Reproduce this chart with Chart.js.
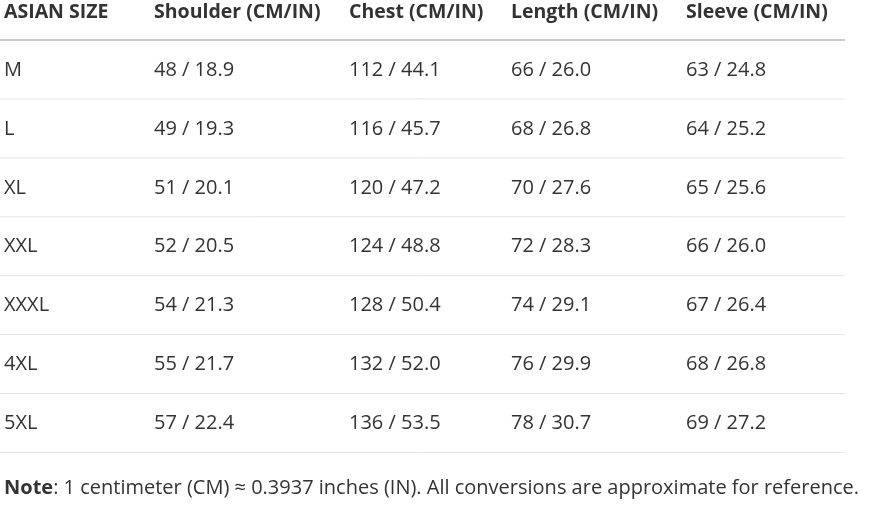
<!DOCTYPE html>
<html>
<head>
<meta charset="utf-8">
<script src="https://cdn.jsdelivr.net/npm/chart.js@4"></script>
<style>
  html, body { margin: 0; padding: 0; background: #fff; }
  #wrap { width: 895px; height: 525px; }
</style>
</head>
<body>
<div id="wrap"><canvas id="tabla"></canvas></div>
<script>
// Datos de la tabla
var headers = ['ASIAN SIZE', 'Shoulder (CM/IN)', 'Chest (CM/IN)', 'Length (CM/IN)', 'Sleeve (CM/IN)'];
var sizes = ['M', 'L', 'XL', 'XXL', 'XXXL', '4XL', '5XL'];
var shoulderCm = [48, 49, 51, 52, 54, 55, 57];
var shoulderIn = [18.9, 19.3, 20.1, 20.5, 21.3, 21.7, 22.4];
var chestCm = [112, 116, 120, 124, 128, 132, 136];
var chestIn = [44.1, 45.7, 47.2, 48.8, 50.4, 52.0, 53.5];
var lengthCm = [66, 68, 70, 72, 74, 76, 78];
var lengthIn = [26.0, 26.8, 27.6, 28.3, 29.1, 29.9, 30.7];
var sleeveCm = [63, 64, 65, 66, 67, 68, 69];
var sleeveIn = [24.8, 25.2, 25.6, 26.0, 26.4, 26.8, 27.2];
var noteText = ': 1 centimeter (CM) \u2248 0.3937 inches (IN). All conversions are approximate for reference.';

// Posicion de cada columna (inicio) y filas
var colStarts = [4, 154, 349, 511, 686];

function pair(a, b, i) { return a[i] + ' / ' + b[i].toFixed(1); }

var tablePlugin = {
  id: 'tablePlugin',
  afterDraw: function (chart) {
    var ctx = chart.ctx;
    var xs = chart.scales.x, ys = chart.scales.y;
    var x0 = xs.getPixelForValue(0), x1 = xs.getPixelForValue(845);
    ctx.save();
    ctx.textBaseline = 'middle';
    ctx.fillStyle = '#333';
    // cabecera
    ctx.font = 'bold 19.5px "Open Sans", "Noto Sans", sans-serif';
    headers.forEach(function (h, c) {
      ctx.fillText(h, xs.getPixelForValue(colStarts[c]), ys.getPixelForValue(12));
    });
    ctx.strokeStyle = '#bbb';
    ctx.lineWidth = 1.5;
    ctx.beginPath();
    ctx.moveTo(x0, ys.getPixelForValue(40)); ctx.lineTo(x1, ys.getPixelForValue(40));
    ctx.stroke();
    // filas
    ctx.font = '20px "Open Sans", "Noto Sans", sans-serif';
    ctx.strokeStyle = '#e4e4e4';
    ctx.lineWidth = 1;
    sizes.forEach(function (s, i) {
      var yc = ys.getPixelForValue(70 + i * 58.9);
      var cells = [s, pair(shoulderCm, shoulderIn, i), pair(chestCm, chestIn, i),
                   pair(lengthCm, lengthIn, i), pair(sleeveCm, sleeveIn, i)];
      cells.forEach(function (t, c) {
        ctx.fillText(t, xs.getPixelForValue(colStarts[c]), yc);
      });
      var yl = ys.getPixelForValue(99 + i * 58.9);
      ctx.beginPath(); ctx.moveTo(x0, yl); ctx.lineTo(x1, yl); ctx.stroke();
    });
    // nota
    var yn = ys.getPixelForValue(488);
    ctx.font = 'bold 20px "Open Sans", "Noto Sans", sans-serif';
    ctx.fillText('Note', xs.getPixelForValue(4), yn);
    var w = ctx.measureText('Note').width;
    ctx.font = '20px "Open Sans", "Noto Sans", sans-serif';
    ctx.fillText(noteText, xs.getPixelForValue(4) + w, yn);
    ctx.restore();
  }
};

var chart = new Chart(document.getElementById('tabla'), {
  type: 'scatter',
  data: { datasets: [{ data: [] }] },
  options: {
    responsive: true,
    maintainAspectRatio: false,
    animation: false,
    layout: { padding: 0 },
    plugins: { legend: { display: false }, tooltip: { enabled: false } },
    scales: {
      x: { type: 'linear', min: 0, max: 895, display: false },
      y: { type: 'linear', min: 0, max: 525, reverse: true, display: false }
    }
  },
  plugins: [tablePlugin]
});
</script>
</body>
</html>
